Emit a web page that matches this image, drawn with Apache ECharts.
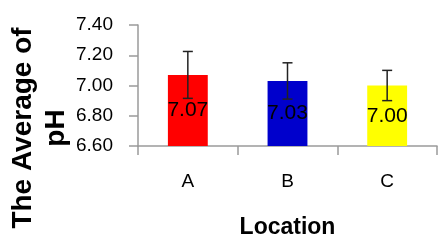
<!DOCTYPE html>
<html>
<head>
<meta charset="utf-8">
<script src="https://cdn.jsdelivr.net/npm/echarts@6/dist/echarts.min.js"></script>
<style>html,body{margin:0;padding:0;background:#fff}#c{width:444px;height:249px}</style>
</head>
<body>
<div id="c"></div>
<script>
const categories = ['A', 'B', 'C'];
const values = [7.07, 7.03, 7.00];
const errors = [0.155, 0.12, 0.10];
const barColors = ['#FF0000', '#0000CC', '#FFFF00'];
const yTicks = { min: 6.6, max: 7.4, interval: 0.2 };
const yTitle = 'The Average of\npH';
const xTitle = 'Location';

const chart = echarts.init(document.getElementById('c'));
const axisColor = '#9a9a9a';
chart.setOption({
  animation: false,
  grid: { left: 138, right: 7, top: 25, bottom: 103 },
  xAxis: {
    type: 'category',
    data: categories,
    axisLine: { lineStyle: { color: axisColor, width: 1.5 } },
    axisTick: { show: true, length: 9, lineStyle: { color: axisColor, width: 1.5 } },
    axisLabel: { color: '#000', fontSize: 19, fontFamily: 'Liberation Sans', margin: 26 },
    name: xTitle,
    nameLocation: 'middle',
    nameGap: 70,
    nameTextStyle: { color: '#000', fontSize: 23, fontWeight: 'bold', fontFamily: 'Liberation Sans' }
  },
  yAxis: {
    type: 'value',
    min: yTicks.min,
    max: yTicks.max,
    interval: yTicks.interval,
    axisLine: { show: true, lineStyle: { color: axisColor, width: 1.5 } },
    axisTick: { show: true, length: 9, lineStyle: { color: axisColor, width: 1.5 } },
    splitLine: { show: false },
    axisLabel: { color: '#000', fontSize: 19, fontFamily: 'Liberation Sans', margin: 25, formatter: v => v.toFixed(2) }
  },
  graphic: [{
    type: 'text',
    x: 40, y: 128,
    rotation: Math.PI / 2,
    style: {
      text: yTitle,
      fill: '#000',
      font: "bold 28px 'Liberation Sans'",
      align: 'center',
      verticalAlign: 'middle',
      lineHeight: 33
    }
  }],
  series: [{
    type: 'bar',
    data: values.map((v, i) => ({ value: v, itemStyle: { color: barColors[i] } })),
    barWidth: '40%',
    label: {
      show: true,
      position: 'inside',
      color: '#000',
      fontSize: 21,
      fontFamily: 'Liberation Sans',
      formatter: p => p.value.toFixed(2)
    }
  }, {
    type: 'custom',
    data: values.map((v, i) => [i, v - errors[i], v + errors[i]]),
    renderItem: (params, api) => {
      const lo = api.coord([api.value(0), api.value(1)]);
      const hi = api.coord([api.value(0), api.value(2)]);
      const hw = 5;
      const st = { stroke: '#222', lineWidth: 1.5 };
      return {
        type: 'group',
        children: [
          { type: 'line', shape: { x1: hi[0], y1: hi[1], x2: lo[0], y2: lo[1] }, style: st },
          { type: 'line', shape: { x1: hi[0] - hw, y1: hi[1], x2: hi[0] + hw, y2: hi[1] }, style: st },
          { type: 'line', shape: { x1: lo[0] - hw, y1: lo[1], x2: lo[0] + hw, y2: lo[1] }, style: st }
        ]
      };
    },
    z: 10
  }]
});
</script>
</body>
</html>
